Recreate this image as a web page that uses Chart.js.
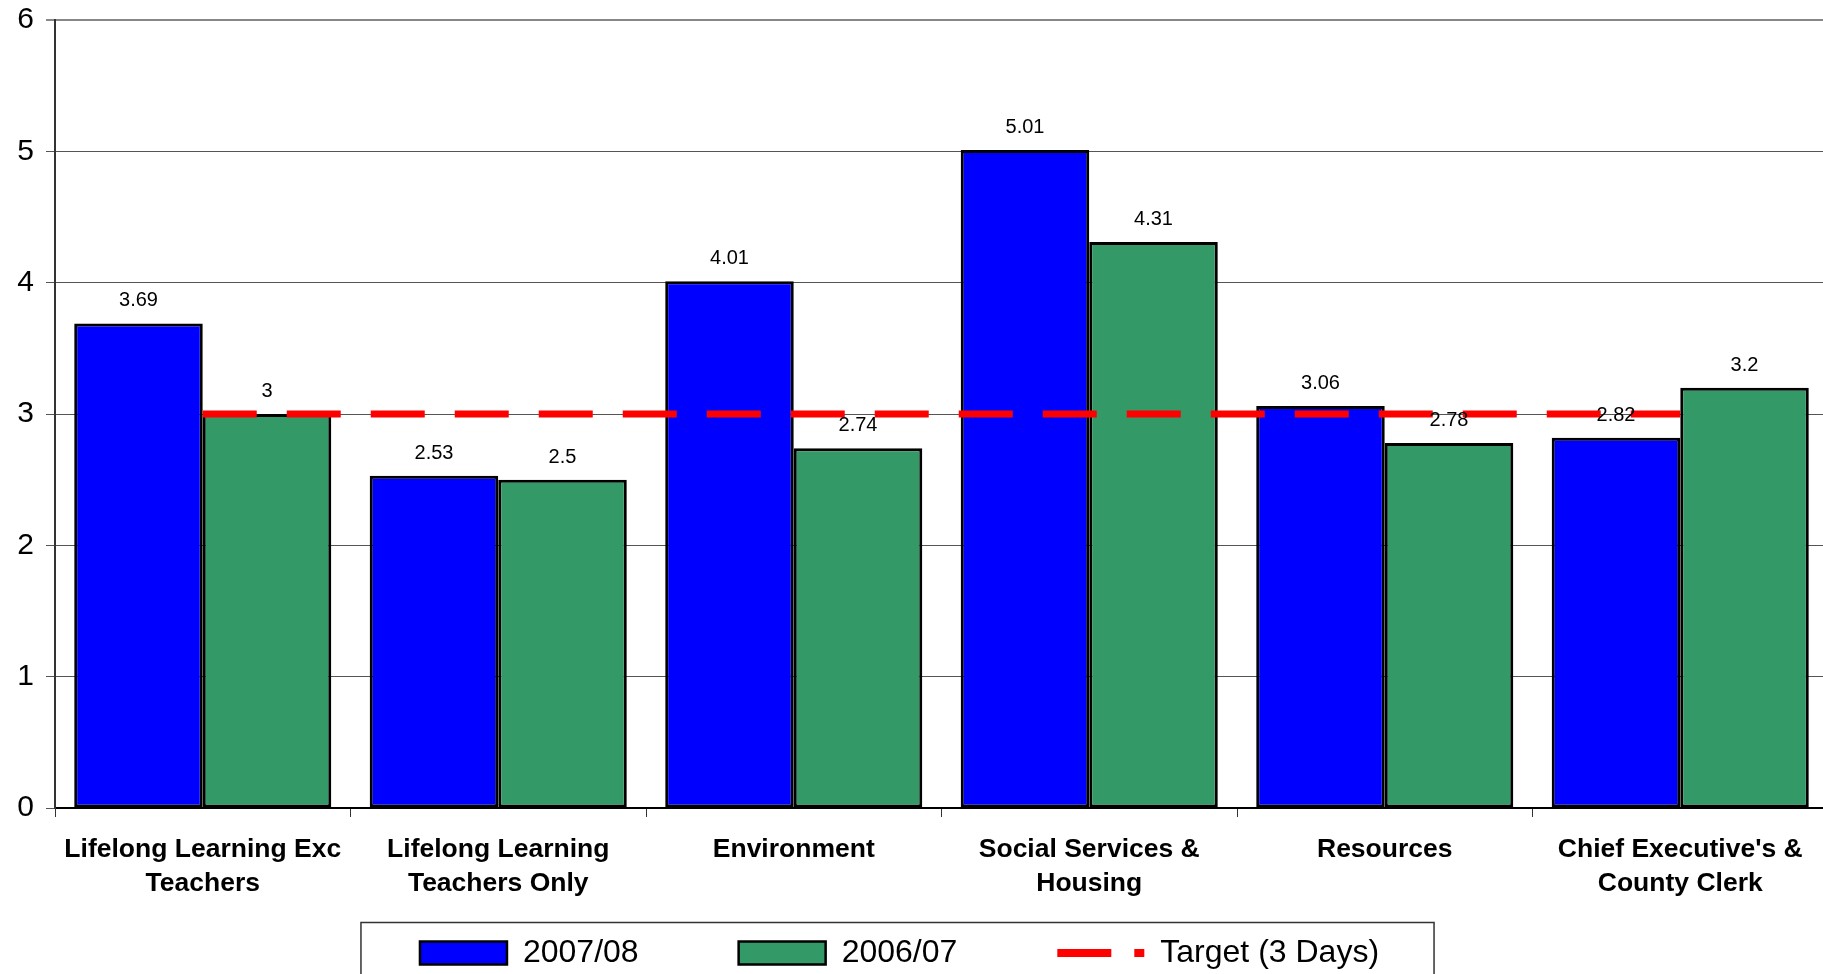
<!DOCTYPE html>
<html>
<head>
<meta charset="utf-8"/>
<title>Days lost per department</title>
<script src="https://cdn.jsdelivr.net/npm/chart.js@4.4.1/dist/chart.umd.min.js"></script>
<style>
    body { margin: 0; background: #fff; overflow: hidden; }
    #chart { position: absolute; left: -29px; top: 0; }
</style>
</head>
<body>
<canvas id="chart" width="1857" height="1045"></canvas>
<script>
    // categories along the bottom
    const departments = [
        ["Lifelong Learning Exc", "Teachers"],
        ["Lifelong Learning", "Teachers Only"],
        "Environment",
        ["Social Services &", "Housing"],
        "Resources",
        ["Chief Executive's &", "County Clerk"]
    ];

    // series values
    const year0708 = [3.69, 2.53, 4.01, 5.01, 3.06, 2.82];
    const year0607 = [3, 2.5, 2.74, 4.31, 2.78, 3.2];
    const target = [3, 3, 3, 3, 3, 3];

    const seriesNames = ["2007/08", "2006/07", "Target (3 Days)"];
    const yTicks = [0, 1, 2, 3, 4, 5, 6];

    const FONT = "'Liberation Sans', Arial, sans-serif";

    // writes the value above each bar
    const valueLabels = {
        id: "valueLabels",
        afterDatasetsDraw(chart) {
            const ctx = chart.ctx;
            ctx.save();
            ctx.font = "20px " + FONT;
            ctx.fillStyle = "#000";
            ctx.textAlign = "center";
            ctx.textBaseline = "alphabetic";
            [0, 1].forEach(i => {
                const ds = chart.data.datasets[i];
                chart.getDatasetMeta(i).data.forEach((bar, j) => {
                    ctx.fillText(String(ds.data[j]), bar.x, bar.y - 17);
                });
            });
            ctx.restore();
        }
    };

    // the legend needs wide gaps between items, which also makes it tall;
    // pull it up over the empty space under the axis labels
    const legendShift = {
        id: "legendShift",
        afterLayout(chart) {
            const lg = chart.legend;
            const dy = lg.top - 837;
            lg.top -= dy;
            lg.bottom -= dy;
        },
        // frame round the legend, open at the bottom like the original
        afterDraw(chart) {
            const boxes = chart.legend.legendHitBoxes;
            if (!boxes || !boxes.length) return;
            const last = boxes[boxes.length - 1];
            const left = boxes[0].left - 59;
            const right = last.left + last.width + 55;
            const top = boxes[0].top - 14.5;
            const ctx = chart.ctx;
            ctx.save();
            ctx.strokeStyle = "#333";
            ctx.lineWidth = 1.5;
            ctx.strokeRect(left, top, right - left, 200);
            ctx.restore();
        }
    };

    const data = {
        labels: departments,
        datasets: [
            {
                label: seriesNames[0],
                data: year0708,
                backgroundColor: "#0000FF",
                borderColor: "#000",
                borderWidth: 3,
                borderSkipped: false,
                order: 1
            },
            {
                label: seriesNames[1],
                data: year0607,
                backgroundColor: "#339966",
                borderColor: "#000",
                borderWidth: 3,
                borderSkipped: false,
                order: 1
            },
            {
                type: "line",
                label: seriesNames[2],
                data: target,
                borderColor: "#FF0000",
                backgroundColor: "#FF0000",
                borderWidth: 7,
                borderDash: [54, 30],
                borderCapStyle: "butt",
                pointRadius: 0,
                pointHoverRadius: 0,
                fill: false,
                order: 0
            }
        ]
    };

    const config = {
        type: "bar",
        data: data,
        plugins: [valueLabels, legendShift],
        options: {
            responsive: false,
            animation: false,
            layout: { padding: { top: 20, left: 0, right: 0, bottom: 0 } },
            datasets: {
                bar: { categoryPercentage: 0.87, barPercentage: 1.0 }
            },
            scales: {
                x: {
                    afterFit: scale => { scale.height = 95; },
                    grid: {
                        display: true,
                        drawOnChartArea: false,
                        drawTicks: true,
                        tickLength: 9,
                        color: "#333"
                    },
                    border: { color: "#000", width: 2 },
                    ticks: {
                        color: "#000",
                        padding: 16,
                        maxRotation: 0,
                        autoSkip: false,
                        font: { family: FONT, size: 26.5, weight: "bold", lineHeight: 1.27 }
                    }
                },
                y: {
                    min: 0,
                    max: 6,
                    afterFit: scale => {
                        scale.width = 84;
                        scale.paddingTop = 0;
                        scale.paddingBottom = 0;
                    },
                    afterBuildTicks: scale => { scale.ticks = yTicks.map(v => ({ value: v })); },
                    grid: {
                        color: ctx => ctx.tick && ctx.tick.value === 6 ? "#888" : "#555",
                        lineWidth: ctx => ctx.tick && ctx.tick.value === 6 ? 2 : 1,
                        tickLength: 9
                    },
                    border: { color: "#333", width: 2 },
                    ticks: {
                        color: "#000",
                        padding: 12,
                        font: { family: FONT, size: 30 }
                    }
                }
            },
            plugins: {
                tooltip: { enabled: false },
                legend: {
                    position: "bottom",
                    labels: {
                        color: "#000",
                        padding: 100,
                        usePointStyle: true,
                        pointStyleWidth: 87,
                        boxHeight: 23,
                        font: { family: FONT, size: 32 },
                        generateLabels: chart => chart.data.datasets.map((ds, i) => {
                            const isLine = ds.type === "line";
                            return {
                                text: ds.label,
                                datasetIndex: i,
                                hidden: false,
                                fontColor: "#000",
                                fillStyle: ds.backgroundColor,
                                strokeStyle: isLine ? ds.borderColor : "#000",
                                lineWidth: isLine ? 8 : 2.5,
                                // long dash, gap, then a short piece
                                lineDash: isLine ? [54, 23, 10, 40] : [],
                                pointStyle: isLine ? "line" : "rect"
                            };
                        })
                    }
                }
            }
        }
    };

    new Chart(document.getElementById("chart"), config);
</script>
</body>
</html>
